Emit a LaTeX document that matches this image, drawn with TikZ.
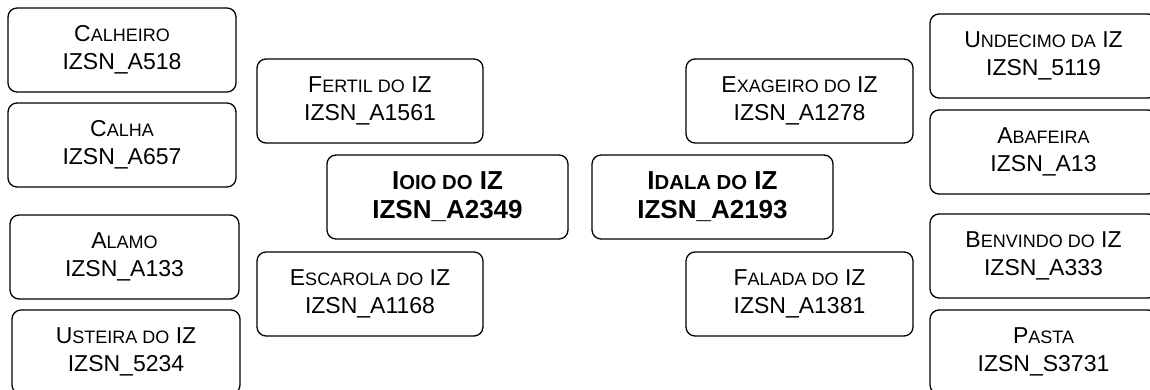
\documentclass[tikz,border=0pt]{standalone}
\usepackage{fontspec}
\setmainfont{Liberation Sans}
\newcommand\scx[1]{{\fontsize{18}{28.5}\selectfont\MakeUppercase{#1}}}
\newcommand\scb[1]{{\fontsize{20.3}{29}\selectfont\MakeUppercase{#1}}}
\tikzset{
  box/.style={draw=black, line width=1.3pt, rounded corners=9pt, align=center,
    minimum height=84pt, inner sep=0pt, font=\fontsize{23}{28.5}\selectfont},
  sbox/.style={box, minimum width=228pt},
  mbox/.style={box, minimum width=226pt},
  cbox/.style={box, minimum width=241pt, font=\fontsize{26}{29}\selectfont\bfseries},
}
\begin{document}
\begin{tikzpicture}[x=1pt,y=-1pt]
\useasboundingbox (0,0) rectangle (1150,390);
\clip (0,0) rectangle (1150,390);
\fill[white] (0,0) rectangle (1150,390);
% left column
\node[sbox] (calheiro) at (122,50) {C\scx{alheiro}\\IZSN\_A518};
\node[sbox] (calha) at (122,145) {C\scx{alha}\\IZSN\_A657};
\node[sbox, minimum width=229pt] (alamo) at (124.5,257) {A\scx{lamo}\\IZSN\_A133};
\node[sbox] (usteira) at (126,352) {U\scx{steira do} IZ\\IZSN\_5234};
% middle left
\node[mbox] (fertil) at (370,101) {F\scx{ertil do} IZ\\IZSN\_A1561};
\node[cbox] (ioio) at (447.5,197) {I\scb{oio do} IZ\\IZSN\_A2349};
\node[mbox] (escarola) at (370,294) {E\scx{scarola do} IZ\\IZSN\_A1168};
% middle right
\node[mbox, minimum width=227pt] (exageiro) at (799.5,101) {E\scx{xageiro do} IZ\\IZSN\_A1278};
\node[cbox] (idala) at (712.5,197) {I\scb{dala do} IZ\\IZSN\_A2193};
\node[mbox, minimum width=227pt] (falada) at (799.5,294) {F\scx{alada do} IZ\\IZSN\_A1381};
% right column
\node[mbox, minimum width=227pt] (undecimo) at (1043.5,56) {U\scx{ndecimo da} IZ\\IZSN\_5119};
\node[mbox, minimum width=227pt] (abafeira) at (1043.5,152) {A\scx{bafeira}\\IZSN\_A13};
\node[mbox, minimum width=227pt] (benvindo) at (1043.5,256) {B\scx{envindo do} IZ\\IZSN\_A333};
\node[mbox, minimum width=227pt] (pasta) at (1043.5,352) {P\scx{asta}\\IZSN\_S3731};
\end{tikzpicture}
\end{document}
